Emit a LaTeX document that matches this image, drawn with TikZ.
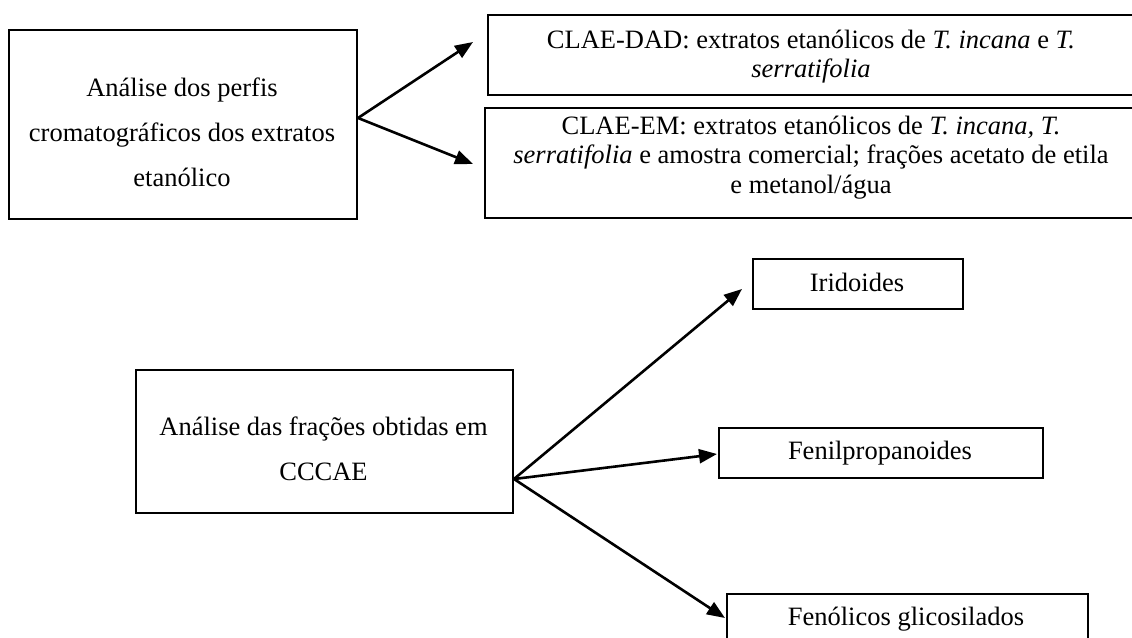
\documentclass[tikz,border=0pt]{standalone}
\usepackage{fontspec}
\setmainfont{Liberation Serif}
\usetikzlibrary{arrows.meta,calc}
\begin{document}
\begin{tikzpicture}[x=1pt,y=-1pt,
  box/.style={draw, line width=2pt, inner sep=0pt, anchor=north west},
  txt/.style={align=center, inner sep=0pt, font=\fontsize{26.5}{29.5}\selectfont},
  dbl/.style={font=\fontsize{26.5}{45}\selectfont},
  arr/.style={-{Triangle[length=18pt,width=14pt]}, line width=2.6pt}]
\useasboundingbox (0,0) rectangle (1132,637);
% boxes
\node[box, minimum width=348pt, minimum height=189pt] (A) at (8,29) {};
\node[box, minimum width=650pt, minimum height=80pt] (B) at (487,14) {};
\node[box, minimum width=653pt, minimum height=110pt] (C) at (484,107) {};
\node[box, minimum width=377pt, minimum height=143pt] (D) at (135,369) {};
\node[box, minimum width=210pt, minimum height=50pt] (I) at (752,258) {};
\node[box, minimum width=324pt, minimum height=50pt] (F) at (718,427) {};
\node[box, minimum width=361pt, minimum height=50pt] (G) at (726,593) {};
% texts
\node[txt, dbl] (At) at (182,132) {Análise dos perfis\strut\\cromatográficos dos extratos\strut\\etanólico\strut};
\node[txt] (Bt) at (811,57) {CLAE-DAD: extratos etanólicos de \textit{T. incana} e \textit{T.}\strut\\\textit{serratifolia}\strut};
\node[txt] (Ct) at (811,158) {CLAE-EM: extratos etanólicos de \textit{T. incana, T.}\strut\\\textit{serratifolia} e amostra comercial; frações acetato de etila\strut\\e metanol/água\strut};
\node[txt, dbl] (Dt) at (323.5,449) {Análise das frações obtidas em\strut\\CCCAE\strut};
\node[txt] (It) at (857,286) {Iridoides\strut};
\node[txt] (Ft) at (880,454) {Fenilpropanoides\strut};
\node[txt] (Gt) at (906,620) {Fenólicos glicosilados\strut};
% connector points
\coordinate (oA) at ($(A.east)+(0,-6.5)$);
\coordinate (oD) at ($(D.east)+(0,37.5)$);
\coordinate (tB) at ($(B.west)+(-14,-13)$);
\coordinate (tC) at ($(C.west)+(-11,1)$);
\coordinate (tI) at ($(I.west)+(-10,5)$);
\coordinate (tF) at ($(F.west)+(-1,1)$);
\coordinate (tG) at ($(G.west)+(-1,-1)$);
% arrows
\draw[arr] (oA) -- (tB);
\draw[arr] (oA) -- (tC);
\draw[arr] (oD) -- (tI);
\draw[arr] (oD) -- (tF);
\draw[arr] (oD) -- (tG);
\end{tikzpicture}
\end{document}
